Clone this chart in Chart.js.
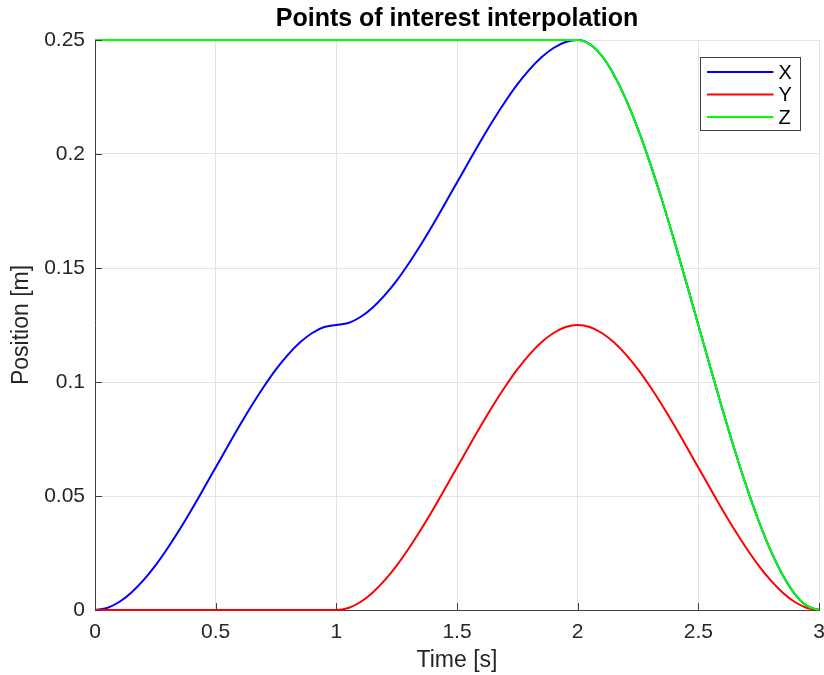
<!DOCTYPE html>
<html>
<head>
<meta charset="utf-8">
<title>Points of interest interpolation</title>
<script src="https://cdn.jsdelivr.net/npm/chart.js@4/dist/chart.umd.min.js"></script>
<style>
  body { margin: 0; background: #fff; }
  canvas { display: block; }
</style>
</head>
<body>
<canvas id="myChart" width="824" height="675"></canvas>
<script>
// time samples [s] and positions [m]
const time = [0, 0.05, 0.1, 0.15, 0.2, 0.25, 0.3, 0.35, 0.4, 0.45, 0.5,
  0.55, 0.6, 0.65, 0.7, 0.75, 0.8, 0.85, 0.9, 0.95, 1.0,
  1.05, 1.1, 1.15, 1.2, 1.25, 1.3, 1.35, 1.4, 1.45, 1.5,
  1.55, 1.6, 1.65, 1.7, 1.75, 1.8, 1.85, 1.9, 1.95, 2.0,
  2.05, 2.1, 2.15, 2.2, 2.25, 2.3, 2.35, 2.4, 2.45, 2.5,
  2.55, 2.6, 2.65, 2.7, 2.75, 2.8, 2.85, 2.9, 2.95, 3.0];

const posX = [0, 0.0009, 0.0035, 0.0076, 0.013, 0.0195, 0.027, 0.0352, 0.044, 0.0532, 0.0625,
  0.0718, 0.081, 0.0898, 0.098, 0.1055, 0.112, 0.1174, 0.1215, 0.1241, 0.125,
  0.1259, 0.1285, 0.1326, 0.138, 0.1445, 0.152, 0.1602, 0.169, 0.1782, 0.1875,
  0.1968, 0.206, 0.2148, 0.223, 0.2305, 0.237, 0.2424, 0.2465, 0.2491, 0.25,
  0.2482, 0.243, 0.2348, 0.224, 0.2109, 0.196, 0.1796, 0.162, 0.1437, 0.125,
  0.1063, 0.088, 0.0704, 0.054, 0.0391, 0.026, 0.0152, 0.007, 0.0018, 0];

const posY = [0, 0, 0, 0, 0, 0, 0, 0, 0, 0, 0,
  0, 0, 0, 0, 0, 0, 0, 0, 0, 0,
  0.0009, 0.0035, 0.0076, 0.013, 0.0195, 0.027, 0.0352, 0.044, 0.0532, 0.0625,
  0.0718, 0.081, 0.0898, 0.098, 0.1055, 0.112, 0.1174, 0.1215, 0.1241, 0.125,
  0.1241, 0.1215, 0.1174, 0.112, 0.1055, 0.098, 0.0898, 0.081, 0.0718, 0.0625,
  0.0532, 0.044, 0.0352, 0.027, 0.0195, 0.013, 0.0076, 0.0035, 0.0009, 0];

const posZ = [0.25, 0.25, 0.25, 0.25, 0.25, 0.25, 0.25, 0.25, 0.25, 0.25, 0.25,
  0.25, 0.25, 0.25, 0.25, 0.25, 0.25, 0.25, 0.25, 0.25, 0.25,
  0.25, 0.25, 0.25, 0.25, 0.25, 0.25, 0.25, 0.25, 0.25, 0.25,
  0.25, 0.25, 0.25, 0.25, 0.25, 0.25, 0.25, 0.25, 0.25, 0.25,
  0.2482, 0.243, 0.2348, 0.224, 0.2109, 0.196, 0.1796, 0.162, 0.1437, 0.125,
  0.1063, 0.088, 0.0704, 0.054, 0.0391, 0.026, 0.0152, 0.007, 0.0018, 0];

const seriesNames = ['X', 'Y', 'Z'];
const seriesColors = ['#0000ff', '#ff0000', '#00ff00'];

const xTicks = [0, 0.5, 1, 1.5, 2, 2.5, 3];
const xTickLabels = ['0', '0.5', '1', '1.5', '2', '2.5', '3'];
const yTicks = [0, 0.05, 0.1, 0.15, 0.2, 0.25];
const yTickLabels = ['0', '0.05', '0.1', '0.15', '0.2', '0.25'];

const FONT = "'Liberation Sans', Arial, Helvetica, sans-serif";
const AXIS = '#404040';

const toPoints = (vals) => time.map((t, i) => ({ x: t, y: vals[i] }));

// matlab style ticks pointing into the plot
const innerTicks = {
  id: 'innerTicks',
  afterDatasetsDraw(chart) {
    const { ctx, chartArea, scales } = chart;
    ctx.save();
    ctx.strokeStyle = AXIS;
    ctx.lineWidth = 1;
    ctx.beginPath();
    xTicks.forEach(v => {
      const px = Math.round(scales.x.getPixelForValue(v)) + 0.5;
      ctx.moveTo(px, chartArea.bottom);
      ctx.lineTo(px, chartArea.bottom - 7);
    });
    yTicks.forEach(v => {
      const py = Math.round(scales.y.getPixelForValue(v)) + 0.5;
      ctx.moveTo(chartArea.left, py);
      ctx.lineTo(chartArea.left + 7, py);
    });
    ctx.stroke();
    ctx.restore();
  }
};

// legend box inside the axes, top right
const boxLegend = {
  id: 'boxLegend',
  afterDraw(chart) {
    const { ctx, chartArea } = chart;
    const w = 100, h = 73;
    const left = chartArea.right - 119 + 0.5;
    const top = chartArea.top + 17 + 0.5;
    ctx.save();
    ctx.fillStyle = '#ffffff';
    ctx.fillRect(left, top, w, h);
    ctx.strokeStyle = '#404040';
    ctx.lineWidth = 1;
    ctx.strokeRect(left, top, w, h);
    ctx.font = '20px ' + FONT;
    ctx.textBaseline = 'middle';
    chart.data.datasets.forEach((ds, i) => {
      const y = top + 14.5 + i * 22.5;
      ctx.strokeStyle = ds.borderColor;
      ctx.lineWidth = 2;
      ctx.beginPath();
      ctx.moveTo(left + 6.5, y);
      ctx.lineTo(left + 73, y);
      ctx.stroke();
      ctx.fillStyle = '#000000';
      ctx.fillText(ds.label, left + 78, y + 1);
    });
    ctx.restore();
  }
};

const ctx = document.getElementById('myChart');

const chart = new Chart(ctx, {
  type: 'line',
  data: {
    datasets: [posX, posY, posZ].map((vals, i) => ({
      label: seriesNames[i],
      data: toPoints(vals),
      borderColor: seriesColors[i],
      backgroundColor: seriesColors[i],
      borderWidth: 2,
      pointRadius: 0,
      cubicInterpolationMode: 'monotone',
      fill: false,
      clip: false,
      order: 3 - i
    }))
  },
  options: {
    responsive: false,
    animation: false,
    layout: { padding: { left: 0, right: 5, top: 0, bottom: 0 } },
    plugins: {
      legend: { display: false },
      tooltip: { enabled: false },
      title: {
        display: true,
        fullSize: false,
        text: 'Points of interest interpolation',
        color: '#000000',
        font: { family: FONT, size: 25, weight: 'bold', lineHeight: 1.2 },
        padding: { top: 4, bottom: 6 }
      }
    },
    scales: {
      x: {
        type: 'linear',
        min: 0,
        max: 3,
        afterFit(scale) {
          scale.height = 65;
          scale.paddingLeft = 0;
          scale.paddingRight = 0;
        },
        afterBuildTicks(scale) { scale.ticks = xTicks.map(v => ({ value: v })); },
        ticks: {
          color: '#262626',
          font: { family: FONT, size: 21 },
          padding: 10,
          maxRotation: 0,
          callback: (v) => xTickLabels[xTicks.indexOf(v)] ?? ''
        },
        grid: { color: '#e3e3e3', drawTicks: false },
        border: { color: AXIS, width: 1 },
        title: {
          display: true,
          text: 'Time [s]',
          color: '#262626',
          font: { family: FONT, size: 23, lineHeight: 1.2 },
          padding: { top: 0, bottom: 1 }
        }
      },
      y: {
        type: 'linear',
        min: 0,
        max: 0.25,
        afterFit(scale) {
          scale.width = 95;
          scale.paddingTop = 0;
          scale.paddingBottom = 0;
        },
        afterBuildTicks(scale) { scale.ticks = yTicks.map(v => ({ value: v })); },
        ticks: {
          color: '#262626',
          font: { family: FONT, size: 21 },
          padding: 10,
          callback: (v) => yTickLabels[yTicks.findIndex(t => Math.abs(t - v) < 1e-9)] ?? ''
        },
        grid: { color: '#e3e3e3', drawTicks: false },
        border: { color: AXIS, width: 1 },
        title: {
          display: true,
          text: 'Position [m]',
          color: '#262626',
          font: { family: FONT, size: 23, lineHeight: 1.2 },
          padding: { top: 8, bottom: 0 }
        }
      }
    }
  },
  plugins: [innerTicks, boxLegend]
});
</script>
</body>
</html>
